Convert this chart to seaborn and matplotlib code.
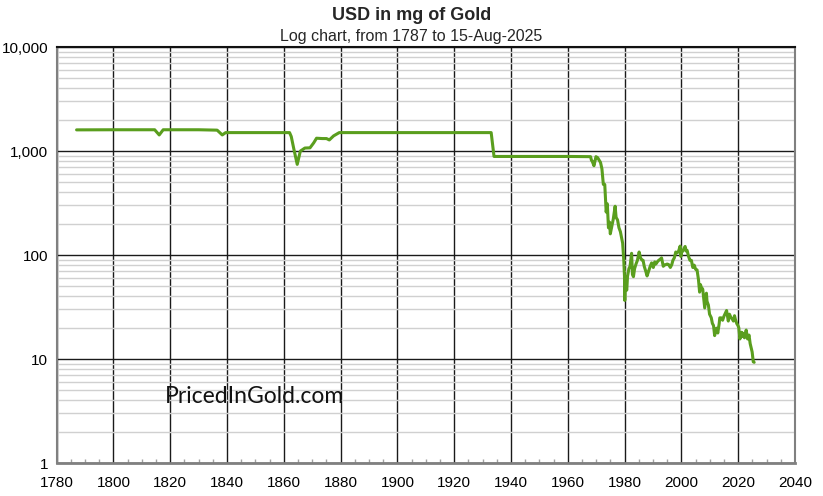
import matplotlib
matplotlib.use("Agg")
import matplotlib.pyplot as plt
import matplotlib.ticker as mticker
import seaborn as sns
import pandas as pd
import numpy as np

# ---- data: year, USD value in mg of gold ----
years = [1787, 1800, 1814.5, 1816.1, 1817.5, 1830, 1836.5, 1838.3, 1839.5,
         1850, 1862.0, 1862.6, 1863.5, 1864.7, 1865.8, 1867.4, 1869.2, 1870.5,
         1871.5, 1873.5, 1875.0, 1876.0, 1877.5, 1879.5, 1900, 1920, 1933.0,
         1934.0, 1950, 1960, 1968.0, 1968.3, 1968.6, 1969.2, 1969.9, 1970.5,
         1971.0, 1971.5, 1972.0, 1972.5, 1973.0, 1973.5, 1973.9, 1974.3, 1974.7,
         1974.95, 1975.5, 1976.0, 1976.65, 1977.0, 1977.5, 1978.0, 1978.5,
         1978.9, 1979.3, 1979.7, 1979.95, 1980.05, 1980.2, 1980.5, 1980.75,
         1981.0, 1981.5, 1981.9, 1982.45, 1982.75, 1983.1, 1983.5, 1984.0,
         1984.5, 1985.1, 1985.6, 1986.0, 1986.5, 1986.9, 1987.5, 1987.9,
         1988.5, 1989.0, 1989.5, 1990.1, 1990.6, 1991.0, 1991.5, 1992.0,
         1992.5, 1993.0, 1993.6, 1994.0, 1994.5, 1995.0, 1995.5, 1996.1,
         1996.6, 1997.0, 1997.5, 1998.0, 1998.5, 1999.0, 1999.55, 1999.8,
         2000.1, 2000.5, 2001.0, 2001.3, 2001.7, 2002.0, 2002.5, 2003.0,
         2003.5, 2004.0, 2004.5, 2005.0, 2005.5, 2006.0, 2006.4, 2006.7,
         2007.0, 2007.5, 2008.0, 2008.2, 2008.8, 2009.0, 2009.5, 2009.9,
         2010.5, 2010.9, 2011.3, 2011.7, 2012.0, 2012.4, 2012.8, 2013.3,
         2013.5, 2014.0, 2014.5, 2015.0, 2015.9, 2016.5, 2016.9, 2017.5,
         2017.9, 2018.3, 2018.7, 2019.0, 2019.5, 2019.9, 2020.2, 2020.6,
         2020.9, 2021.2, 2021.4, 2021.7, 2022.2, 2022.8, 2023.3, 2023.8,
         2024.2, 2024.6, 2024.9, 2025.3, 2025.62]
mg_gold = [1600, 1604, 1604, 1430, 1604, 1604, 1590, 1430, 1506,
           1506, 1506, 1380, 1050, 745, 1000, 1070, 1075, 1200,
           1330, 1320, 1320, 1280, 1400, 1506, 1506, 1506, 1506,
           888, 888, 888, 884, 818, 797, 723, 884, 864,
           818, 778, 676, 478, 478, 259, 311, 183, 207,
           160, 189, 222, 295, 230, 218, 183, 168,
           148, 130, 89, 62, 36.6, 62, 48, 46,
           62, 74, 78, 104, 65, 62, 74, 82,
           89, 107, 94, 90, 89, 78, 69, 63,
           71, 78, 84, 76, 86, 82, 86, 89,
           91, 94, 78, 80, 81, 82, 81, 76,
           81, 89, 94, 107, 105, 109, 122, 97,
           109, 109, 117, 121, 109, 111, 97, 89,
           89, 76, 80, 73, 72, 58, 44, 52,
           49, 47, 35, 31, 43, 36, 33, 27,
           25, 22, 21, 16.8, 18.9, 19.8, 17.8, 22,
           24.9, 24.9, 23.6, 25.9, 29.3, 23.2, 27, 24.9,
           24.3, 23.2, 26.1, 24.1, 21.9, 21, 20, 15.6,
           16.8, 18.1, 16.5, 17.7, 16, 19, 15.6, 17,
           14.1, 12.7, 11.7, 9.4, 9.3]

x_ticks = list(range(1780, 2041, 20))
y_ticks = [1, 10, 100, 1000, 10000]
y_tick_labels = ["1", "10", "100", "1,000", "10,000"]

df = pd.DataFrame({"year": years, "mg": mg_gold})

sns.set_theme(style="white")
plt.rcParams['font.family'] = ['Liberation Sans', 'DejaVu Sans']

fig = plt.figure(figsize=(8.23, 4.96), dpi=100)
ax = fig.add_axes([0.0689, 0.0665, 0.966 - 0.0689, 0.905 - 0.0665])

sns.lineplot(data=df, x="year", y="mg", ax=ax, color="#5a9e1e",
             linewidth=2.2, zorder=5)

ax.set_yscale("log")
ax.set_xlim(1780, 2040)
ax.set_ylim(1, 10000)

ax.set_xticks(x_ticks)
ax.set_xticklabels([str(t) for t in x_ticks])
ax.xaxis.set_minor_locator(mticker.MultipleLocator(5))
ax.set_yticks(y_ticks)
ax.set_yticklabels(y_tick_labels)
ax.yaxis.set_minor_locator(mticker.LogLocator(base=10, subs=np.arange(2, 10)))
ax.yaxis.set_minor_formatter(mticker.NullFormatter())

ax.grid(which="major", axis="both", color="#1a1a1a", linewidth=1.0, zorder=1)
ax.grid(which="minor", axis="y", color="#d0d0d0", linewidth=1.0, zorder=0)
ax.grid(which="minor", axis="x", visible=False)

ax.tick_params(axis="both", which="major", labelsize=11, colors="#808080",
               labelcolor="black", length=4, width=1, direction="out", pad=2)
ax.tick_params(axis="x", which="minor", bottom=True, length=3, width=1,
               colors="#a0a0a0", direction="in")
ax.tick_params(axis="y", which="minor", left=False)
ax.tick_params(axis="x", which="major", pad=5)

for side in ["left", "bottom", "right"]:
    ax.spines[side].set_color("#808080")
ax.spines["bottom"].set_linewidth(2.0)
ax.spines["left"].set_linewidth(1.5)
ax.spines["right"].set_linewidth(1.5)
ax.spines["top"].set_color("#111111")
ax.spines["top"].set_linewidth(1.5)

ax.set_xlabel("")
ax.set_ylabel("")

fig.text(0.5, 0.968, "USD in mg of Gold", ha="center", va="center",
         fontsize=13, fontweight="bold",
         family=["Liberation Sans Narrow", "Liberation Sans", "DejaVu Sans"])
fig.text(0.5, 0.927, "Log chart, from 1787 to 15-Aug-2025", ha="center",
         va="center", fontsize=11.5,
         family=["Liberation Sans Narrow", "Liberation Sans", "DejaVu Sans"])

ax.text(1818, 4.4, "PricedInGold.com", ha="left", va="center",
        fontsize=16.5, color="#111111", fontweight="normal",
        family=["Lato", "DejaVu Sans"], zorder=6)

fig.savefig("out.png", dpi=100, facecolor="white")
